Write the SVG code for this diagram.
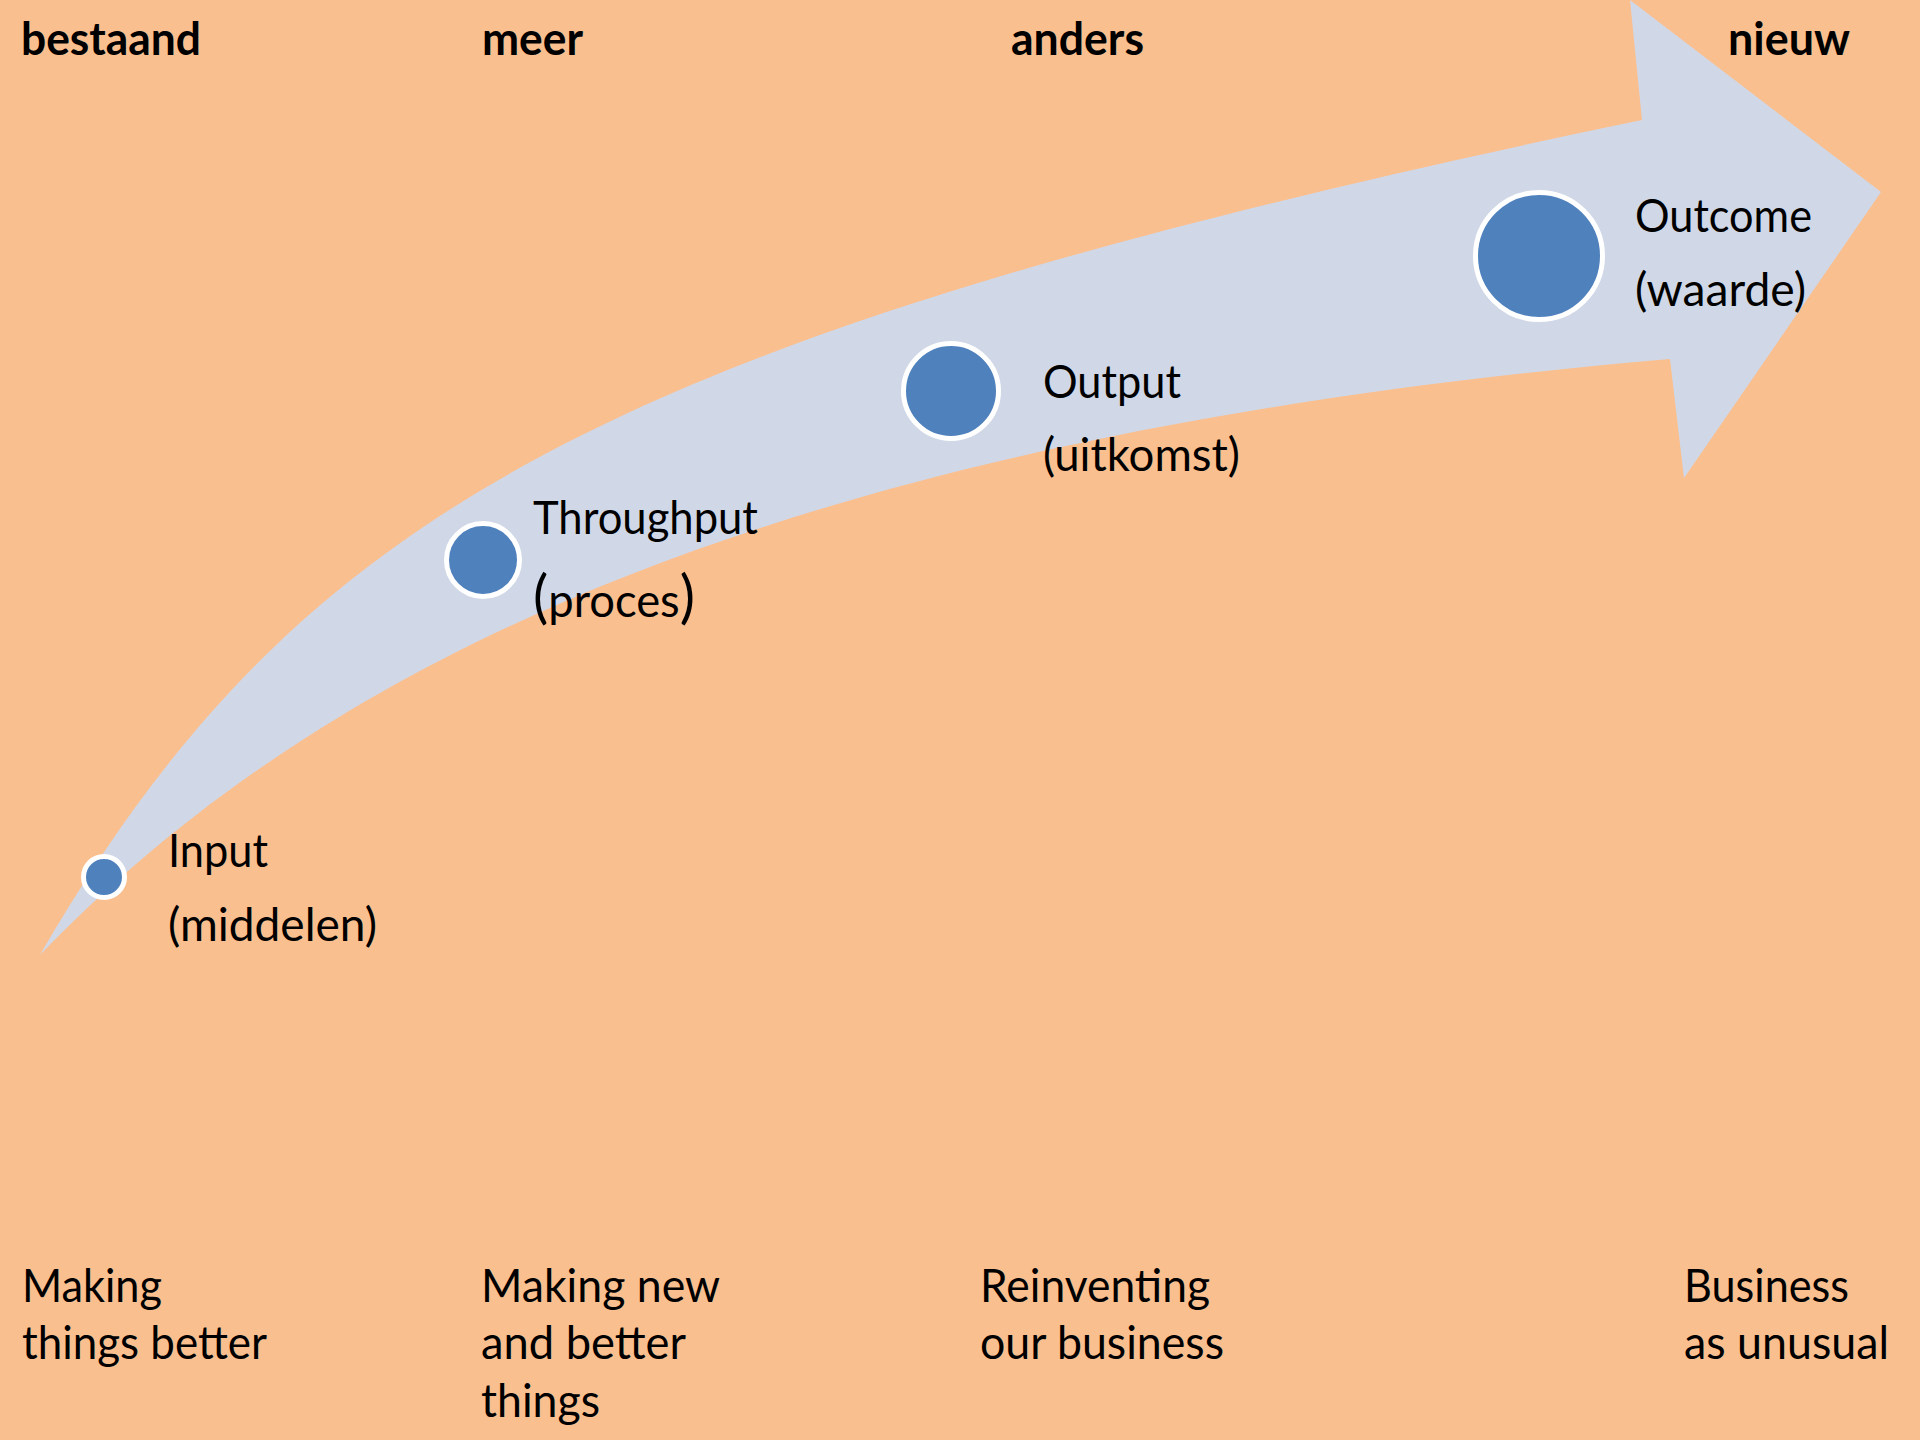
<svg xmlns="http://www.w3.org/2000/svg" width="1920" height="1440" viewBox="0 0 1920 1440">
<style>
.t{font-family:Lato,"Open Sans","Liberation Sans",sans-serif;font-size:46px;fill:#000}
.b{font-weight:bold}
.dot{fill:#4F81BD;stroke:#fff;stroke-width:5}
</style>
<rect width="1920" height="1440" fill="#FABF8F"/>
<g id="arrow">
<path d="M 40 955 C 296 514, 600 337, 1642 120 L 1630 0 L 1881 192 L 1684 478 L 1670 359 C 735 439, 301 685, 40 955 Z" fill="#D0D8E8"/>
</g>
<g id="headers">
<text class="t b" x="21" y="55" textLength="180" lengthAdjust="spacingAndGlyphs">bestaand</text>
<text class="t b" x="482" y="55" textLength="101" lengthAdjust="spacingAndGlyphs">meer</text>
<text class="t b" x="1011" y="55" textLength="133" lengthAdjust="spacingAndGlyphs">anders</text>
<text class="t b" x="1728" y="55" textLength="122" lengthAdjust="spacingAndGlyphs">nieuw</text>
</g>
<g id="input">
<circle class="dot" cx="104" cy="877" r="20.5"/>
<text class="t" x="168" y="867" textLength="100" lengthAdjust="spacingAndGlyphs">Input</text>
<text class="t" x="168" y="941" textLength="209" lengthAdjust="spacingAndGlyphs">(middelen)</text>
</g>
<g id="throughput">
<circle class="dot" cx="483" cy="560" r="36.5"/>
<text class="t" x="533" y="534" textLength="225" lengthAdjust="spacingAndGlyphs">Throughput</text>
<text class="t" x="533" y="617" textLength="162" lengthAdjust="spacingAndGlyphs"><tspan font-size="58">(</tspan>proces<tspan font-size="58">)</tspan></text>
</g>
<g id="output">
<circle class="dot" cx="951" cy="391" r="47.5"/>
<text class="t" x="1043" y="398" textLength="138" lengthAdjust="spacingAndGlyphs">Output</text>
<text class="t" x="1043" y="471" textLength="197" lengthAdjust="spacingAndGlyphs">(uitkomst)</text>
</g>
<g id="outcome">
<circle class="dot" cx="1539" cy="256" r="63.5"/>
<text class="t" x="1635" y="232" textLength="177" lengthAdjust="spacingAndGlyphs">Outcome</text>
<text class="t" x="1635" y="306" textLength="171" lengthAdjust="spacingAndGlyphs">(waarde)</text>
</g>
<g id="footer">
<text class="t" x="22" y="1302" textLength="140" lengthAdjust="spacingAndGlyphs">Making</text>
<text class="t" x="22" y="1359" textLength="245" lengthAdjust="spacingAndGlyphs">things better</text>
<text class="t" x="481" y="1302" textLength="239" lengthAdjust="spacingAndGlyphs">Making new</text>
<text class="t" x="481" y="1359" textLength="205" lengthAdjust="spacingAndGlyphs">and better</text>
<text class="t" x="481" y="1417" textLength="119" lengthAdjust="spacingAndGlyphs">things</text>
<text class="t" x="980" y="1302" textLength="230" lengthAdjust="spacingAndGlyphs">Reinventing</text>
<text class="t" x="980" y="1359" textLength="244" lengthAdjust="spacingAndGlyphs">our business</text>
<text class="t" x="1684" y="1302" textLength="165" lengthAdjust="spacingAndGlyphs">Business</text>
<text class="t" x="1684" y="1359" textLength="205" lengthAdjust="spacingAndGlyphs">as unusual</text>
</g>
</svg>
